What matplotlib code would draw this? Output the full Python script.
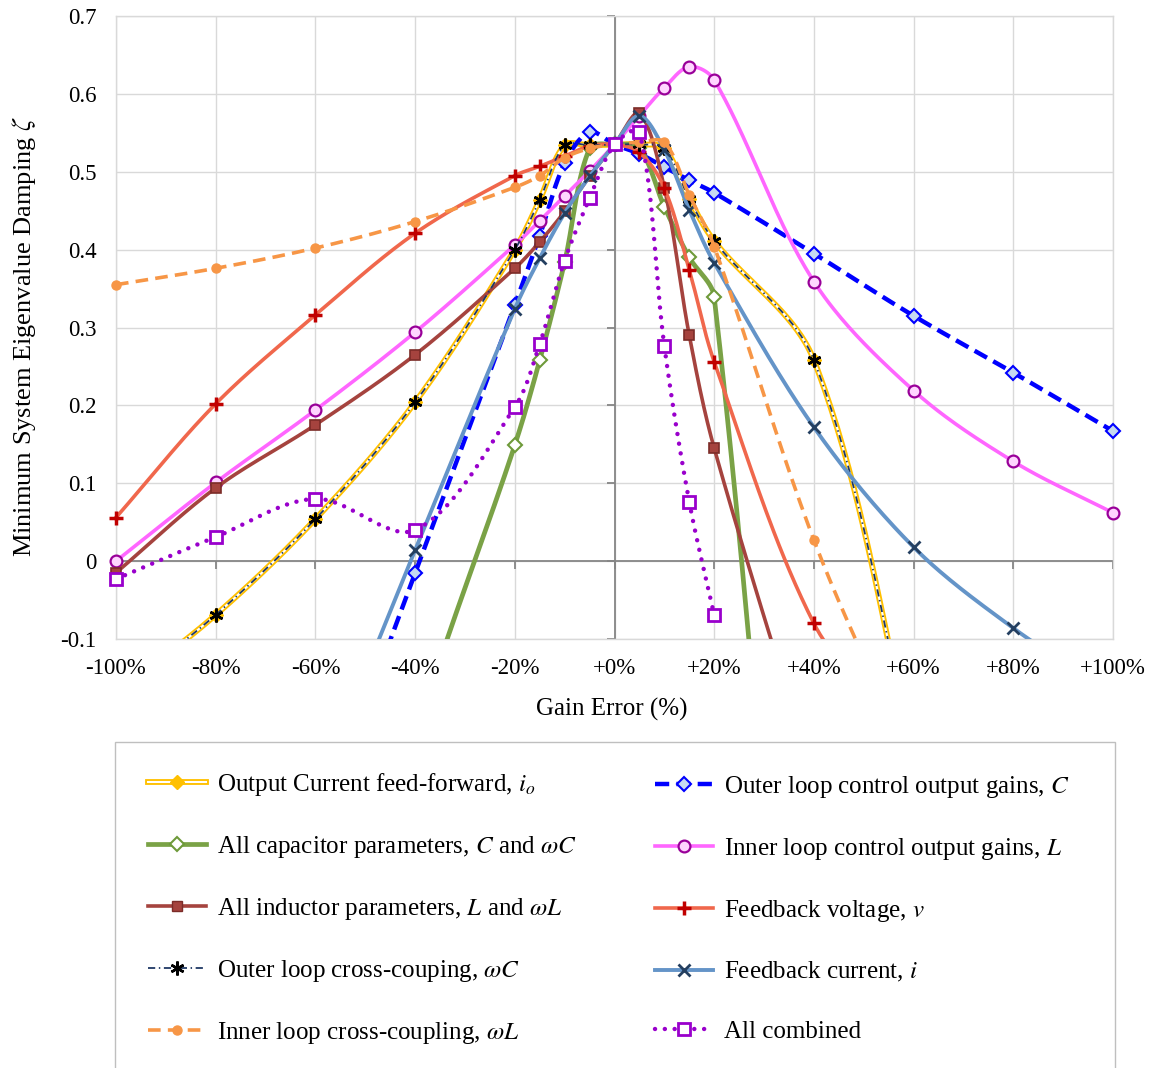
import numpy as np
import matplotlib
matplotlib.use("Agg")
import matplotlib.pyplot as plt
from matplotlib.lines import Line2D
from matplotlib.patches import Rectangle

plt.rcParams['font.family'] = 'Liberation Serif'
plt.rcParams['mathtext.fontset'] = 'stix'

# gain error points (%) shared by all series
gain_err = [-100, -80, -60, -40, -20, -15, -10, -5, 0, 5, 10, 15, 20, 40, 60, 80, 100]

# minimum damping per series (values below -0.1 are off the visible axis, estimated)
io_ff = [-0.17, -0.069, 0.054, 0.204, 0.400, 0.464, 0.534, 0.534, 0.535, 0.535, 0.530, 0.465, 0.411, 0.258, -0.25, -0.80, -1.30]
outer_gain = [-1.05, -0.70, -0.36, -0.015, 0.329, 0.418, 0.511, 0.551, 0.535, 0.523, 0.506, 0.489, 0.473, 0.395, 0.315, 0.242, 0.167]
cap_all = [-1.90, -1.30, -0.75, -0.23, 0.149, 0.258, 0.384, 0.530, 0.535, 0.530, 0.455, 0.390, 0.339, -1.00, -2.00, -3.00, -4.00]
inner_gain = [0.000, 0.101, 0.194, 0.294, 0.406, 0.437, 0.469, 0.501, 0.535, 0.572, 0.608, 0.635, 0.618, 0.359, 0.219, 0.128, 0.062]
ind_all = [-0.015, 0.094, 0.175, 0.265, 0.376, 0.410, 0.449, 0.494, 0.535, 0.575, 0.479, 0.290, 0.145, -0.28, -0.70, -1.10, -1.50]
fb_volt = [0.056, 0.202, 0.316, 0.421, 0.495, 0.507, 0.520, 0.533, 0.535, 0.525, 0.479, 0.374, 0.256, -0.080, -0.25, -0.60, -1.00]
outer_cc = [-0.17, -0.069, 0.054, 0.204, 0.400, 0.464, 0.534, 0.534, 0.535, 0.535, 0.530, 0.465, 0.411, 0.258, -0.25, -0.80, -1.30]
fb_curr = [-0.90, -0.60, -0.30, 0.014, 0.324, 0.389, 0.447, 0.494, 0.535, 0.572, 0.528, 0.451, 0.383, 0.172, 0.018, -0.086, -0.17]
inner_cc = [0.355, 0.376, 0.402, 0.436, 0.480, 0.495, 0.518, 0.530, 0.535, 0.538, 0.538, 0.470, 0.404, 0.027, -0.27, -0.60, -0.90]
combined = [-0.023, 0.031, 0.080, 0.040, 0.198, 0.279, 0.386, 0.466, 0.535, 0.551, 0.276, 0.076, -0.069]

x_ticks = [-100, -80, -60, -40, -20, 0, 20, 40, 60, 80, 100]
x_tick_labels = ['-100%', '-80%', '-60%', '-40%', '-20%', '+0%', '+20%', '+40%', '+60%', '+80%', '+100%']
y_ticks = [-0.1, 0, 0.1, 0.2, 0.3, 0.4, 0.5, 0.6, 0.7]
y_tick_labels = ['-0.1', '0', '0.1', '0.2', '0.3', '0.4', '0.5', '0.6', '0.7']

PX_X, PX_Y = 997 / 200, 778.75  # pixels per unit, used to weight the smoothing


def smooth(xs, ys, n=40):
    # Bezier smoothing through the points (spreadsheet "smoothed line"),
    # handle lengths weighted by the on-screen chord lengths
    p = np.column_stack([np.asarray(xs, float) * PX_X, np.asarray(ys, float) * PX_Y])
    m = len(p)
    t = np.linspace(0, 1, n)[:, None]
    parts = []
    for i in range(m - 1):
        p1, p2 = p[i], p[i + 1]
        d12 = np.hypot(*(p2 - p1))
        if i > 0:
            d01 = np.hypot(*(p1 - p[i - 1]))
            b1 = p1 + (p2 - p[i - 1]) * d12 / (d01 + d12) / 3
        else:
            b1 = p1 + (p2 - p1) / 3
        if i < m - 2:
            d23 = np.hypot(*(p[i + 2] - p2))
            b2 = p2 - (p[i + 2] - p1) * d12 / (d12 + d23) / 3
        else:
            b2 = p2 - (p2 - p1) / 3
        seg = (1 - t) ** 3 * p1 + 3 * (1 - t) ** 2 * t * b1 + 3 * (1 - t) * t ** 2 * b2 + t ** 3 * p2
        parts.append(seg if i == 0 else seg[1:])
    c = np.vstack(parts)
    return c[:, 0] / PX_X, c[:, 1] / PX_Y


fig = plt.figure(figsize=(11.59, 10.68), dpi=100)
ax = fig.add_axes([116 / 1159, 1 - 639 / 1068, 997 / 1159, 623 / 1068])
ax.set_xlim(-100, 100)
ax.set_ylim(-0.1, 0.7)

clip = Rectangle((-0.03, 0), 1.06, 1.05, transform=ax.transAxes)


def draw(x, y, line_kw, mk_kw, z):
    sx, sy = smooth(x, y)
    for kw in line_kw:
        ln, = ax.plot(sx, sy, zorder=z, **kw)
        ln.set_clip_path(clip)
    if mk_kw:
        mk, = ax.plot(x, y, ls='none', zorder=z + 0.5, **mk_kw)
        mk.set_clip_path(clip)


x = gain_err
# series drawn in spreadsheet order
draw(x, io_ff, [dict(color='#FFC000', lw=4.2), dict(color='white', lw=1.5)],
     dict(marker='D', ms=7.5, mfc='#FFC000', mec='#FFC000'), 3)
draw(x, outer_gain, [dict(color='#0000FF', lw=3.2, ls=(0, (3.2, 1.6)))],
     dict(marker='D', ms=7.5, mfc='#C6D9F1', mec='#0000FF', mew=1.5), 4)
draw(x, cap_all, [dict(color='#7AA246', lw=3.4)],
     dict(marker='D', ms=7, mfc='white', mec='#6E9A3A', mew=1.5), 5)
draw(x, inner_gain, [dict(color='#FF66FF', lw=2.6)],
     dict(marker='o', ms=8.5, mfc='#FFD5FF', mec='#990099', mew=1.6), 6)
draw(x, ind_all, [dict(color='#A5433E', lw=2.6)],
     dict(marker='s', ms=7.5, mfc='#A5433E', mec='#7B2C28', mew=1.2), 7)
draw(x, fb_volt, [dict(color='#F0674C', lw=2.6)],
     dict(marker='+', ms=10, mec='#C00000', mew=2.5), 8)
draw(x, outer_cc, [dict(color='#1F3864', lw=1.3, ls=(0, (4, 2, 0.8, 2)))],
     dict(marker=(6, 2, 0), ms=10, mec='black', mew=1.8), 9)
draw(x, fb_curr, [dict(color='#6494C8', lw=2.8)],
     dict(marker='x', ms=8, mec='#243F60', mew=2), 10)
draw(x, inner_cc, [dict(color='#F79646', lw=2.6, ls=(0, (3.5, 2)))],
     dict(marker='o', ms=6.5, mfc='#F79646', mec='#F79646'), 11)
draw(x[:len(combined)], combined,
     [dict(color='#9900CC', lw=3.2, ls=(0, (0.01, 2.2)), dash_capstyle='round')],
     dict(marker='s', ms=8.5, mfc='white', mec='#9900CC', mew=2), 12)

# grid, zero axes and their tick marks
for s in ax.spines.values():
    s.set_color('#D9D9D9')
    s.set_linewidth(1)
ax.grid(True, color='#D9D9D9', lw=1)
ax.set_axisbelow(True)
ax.axhline(0, color='#868686', lw=1.3, zorder=2)
ax.axvline(0, color='#868686', lw=1.3, zorder=2)
ax.plot(x_ticks, [0] * len(x_ticks), ls='none', marker=3, ms=6, mew=1.3, color='#868686', clip_on=False, zorder=2)
ax.plot([0] * len(y_ticks), y_ticks, ls='none', marker=0, ms=6, mew=1.3, color='#868686', clip_on=False, zorder=2)

ax.set_xticks(x_ticks, labels=x_tick_labels)
ax.set_yticks(y_ticks, labels=y_tick_labels)
ax.tick_params(axis='x', length=0, pad=14, labelsize=16.5)
ax.tick_params(axis='y', length=0, pad=14, labelsize=16.5)

ax.set_xlabel('Gain Error (%)', fontsize=18)
ax.xaxis.set_label_coords(0.497, -0.113)
ax.xaxis.label.set_verticalalignment('center')
ax.set_ylabel(r'Minimum System Eigenvalue Damping $\zeta$', fontsize=19)
ax.yaxis.set_label_coords(-0.092, 0.485)
ax.yaxis.label.set_verticalalignment('center')

# legend
h_io = (Line2D([], [], color='#FFC000', lw=4.2), Line2D([], [], color='white', lw=1.5),
        Line2D([], [], ls='none', marker='D', ms=7.5, mfc='#FFC000', mec='#FFC000'))
h_cap = Line2D([], [], color='#7AA246', lw=3.4, marker='D', ms=7, mfc='white', mec='#6E9A3A', mew=1.5)
h_ind = Line2D([], [], color='#A5433E', lw=2.6, marker='s', ms=7.5, mfc='#A5433E', mec='#7B2C28')
h_occ = Line2D([], [], color='#1F3864', lw=1.3, ls=(0, (4, 2, 0.8, 2)), marker=(6, 2, 0), ms=10, mec='black', mew=1.8)
h_icc = Line2D([], [], color='#F79646', lw=2.6, ls=(0, (3.5, 2)), marker='o', ms=6.5, mfc='#F79646', mec='#F79646')
h_og = Line2D([], [], color='#0000FF', lw=3.2, ls=(0, (3.2, 1.6)), marker='D', ms=7.5, mfc='#C6D9F1', mec='#0000FF', mew=1.5)
h_ig = Line2D([], [], color='#FF66FF', lw=2.6, marker='o', ms=8.5, mfc='#FFD5FF', mec='#990099', mew=1.6)
h_fv = Line2D([], [], color='#F0674C', lw=2.6, marker='+', ms=10, mec='#C00000', mew=2.5)
h_fc = Line2D([], [], color='#6494C8', lw=2.8, marker='x', ms=8, mec='#243F60', mew=2)
h_all = Line2D([], [], color='#9900CC', lw=3.2, ls=(0, (0.01, 2.2)), dash_capstyle='round',
               marker='s', ms=8.5, mfc='white', mec='#9900CC', mew=2)

col1 = [h_io, h_cap, h_ind, h_occ, h_icc]
lab1 = [r'Output Current feed-forward, $i_o$', r'All capacitor parameters, $C$ and $\omega C$',
        r'All inductor parameters, $L$ and $\omega L$', r'Outer loop cross-couping, $\omega C$',
        r'Inner loop cross-coupling, $\omega L$']
col2 = [h_og, h_ig, h_fv, h_fc, h_all]
lab2 = [r'Outer loop control output gains, $C$', r'Inner loop control output gains, $L$',
        r'Feedback voltage, $v$', r'Feedback current, $i$', 'All combined']

yc = 1 - 908.5 / 1068
for hs, ls_, x0 in [(col1, lab1, 148 / 1159), (col2, lab2, 655 / 1159)]:
    fig.legend(hs, ls_, loc='center left', bbox_to_anchor=(x0, yc), frameon=False, fontsize=18,
               borderpad=0, borderaxespad=0, handlelength=2.3, handletextpad=0.45, labelspacing=1.44)

fig.add_artist(Rectangle((115 / 1159, -0.05), 1000 / 1159, 1 - 742 / 1068 + 0.05, transform=fig.transFigure,
                         fill=False, edgecolor='#BFBFBF', lw=1))

fig.savefig('out.png', dpi=100)
